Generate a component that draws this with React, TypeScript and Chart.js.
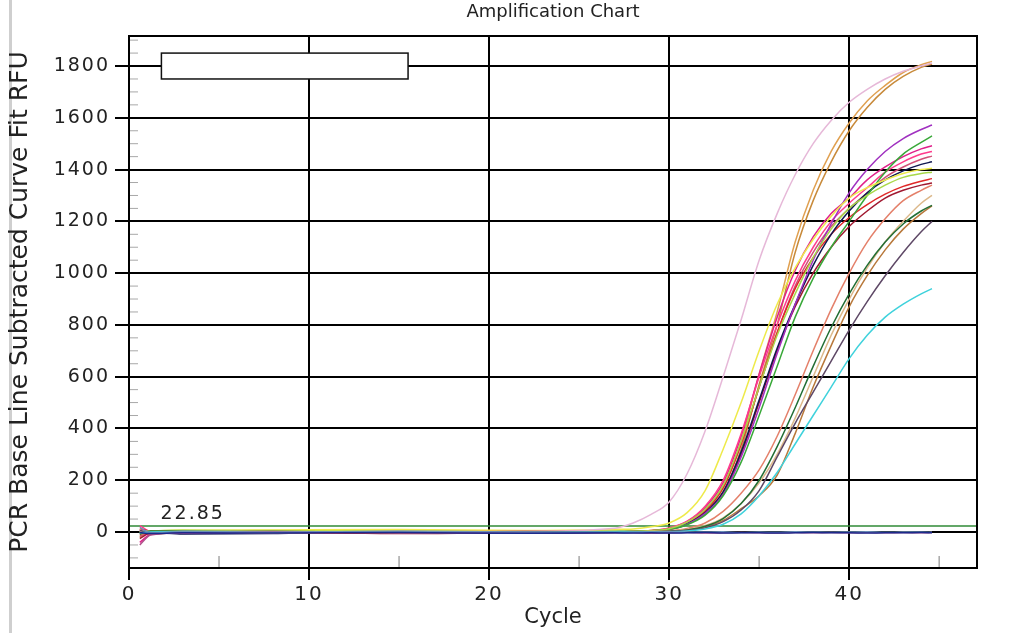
import { useEffect, useRef } from 'react';
import { Chart, registerables } from 'chart.js';

Chart.register(...registerables);

// x positions (cycle) of the stored readings
const cycles = [0.6, 1.2, 3, 8, 15, 22, 27, 28, 29, 30, 31, 32, 33, 34, 35, 36, 37, 38, 39, 40, 41, 42, 43, 44, 44.6];

// RFU readings per well
const negA = [-2, -6, -3, -4, -2, -5, -3, -4, -3, -4, -3, -2, -4, -3, -3, -4, -3, -2, -3, -3, -4, -3, -3, -2, -3];
const negB = [18, -3, 2, -1, 3, 0, -2, -1, 0, 1, -1, 0, 1, -2, 0, -1, 1, 0, -1, 0, 1, -1, 0, 0, -1];
const negC = [-50, -12, -4, 1, -3, -2, -4, -3, -5, -3, -2, -4, -3, -2, -3, -4, -2, -3, -2, -3, -2, -3, -2, -3, -2];
const cyan = [-3, 0, 2, 1, -1, -2, 0, 0, 0, 1, 4, 12, 30, 70, 140, 230, 340, 450, 560, 670, 760, 830, 880, 920, 940];
const darkPurple = [6, -3, 0, 2, -2, 0, 0, 0, 1, 2, 6, 16, 40, 85, 160, 290, 420, 540, 660, 780, 890, 990, 1080, 1160, 1200];
const darkGreen = [-8, 4, 3, 2, 0, 1, 0, 0, 1, 3, 8, 22, 52, 110, 200, 330, 480, 640, 790, 920, 1030, 1120, 1190, 1240, 1262];
const tan = [2, 1, 0, -2, 3, -1, 0, 1, 2, 4, 10, 25, 55, 110, 190, 300, 440, 600, 760, 900, 1020, 1120, 1200, 1270, 1300];
const brownOrange = [-10, 2, 1, 0, -2, 2, 0, 0, 1, 3, 8, 20, 45, 90, 140, 220, 380, 560, 720, 870, 990, 1090, 1170, 1230, 1260];
const salmon = [4, 0, 2, -3, 0, 3, 1, 1, 2, 5, 14, 35, 80, 150, 240, 370, 530, 700, 860, 1000, 1120, 1210, 1280, 1320, 1340];
const lightPink = [8, -5, 2, 1, -2, 3, 15, 35, 68, 116, 225, 390, 600, 820, 1050, 1230, 1380, 1500, 1590, 1660, 1710, 1750, 1780, 1800, 1812];
const yellow = [0, 4, 6, 8, 10, 6, 10, 12, 20, 35, 75, 160, 320, 500, 700, 880, 1020, 1130, 1220, 1290, 1330, 1360, 1385, 1400, 1405];
const lime = [0, 3, 8, 4, 6, 2, 2, 3, 6, 13, 38, 88, 180, 350, 560, 760, 920, 1060, 1170, 1250, 1300, 1340, 1370, 1385, 1390];
const green = [3, -6, 5, 6, 2, 4, 3, 3, 5, 10, 28, 65, 140, 270, 450, 640, 830, 980, 1100, 1200, 1300, 1390, 1460, 1505, 1530];
const purple = [5, 3, -3, -2, 1, -2, 0, 1, 3, 10, 30, 72, 145, 290, 480, 690, 880, 1050, 1190, 1310, 1400, 1470, 1520, 1555, 1572];
const navy = [-5, -2, -8, -6, 4, -5, -2, 1, 4, 11, 32, 75, 155, 310, 510, 710, 880, 1030, 1150, 1240, 1310, 1360, 1395, 1420, 1430];
const darkRed = [-25, -4, -2, 0, -6, -1, 0, 1, 4, 10, 30, 72, 150, 300, 500, 700, 870, 1000, 1100, 1180, 1240, 1290, 1320, 1340, 1348];
const red = [12, 3, -2, -1, -4, 2, 0, 2, 5, 12, 34, 80, 170, 340, 560, 770, 940, 1060, 1150, 1215, 1265, 1305, 1335, 1355, 1365];
const rosePink = [-15, -6, -2, -5, -1, -4, 0, 2, 5, 12, 36, 85, 175, 340, 560, 770, 950, 1080, 1180, 1250, 1310, 1370, 1410, 1440, 1452];
const hotPink = [25, 2, 0, -4, -3, 1, 1, 3, 6, 16, 42, 100, 200, 380, 600, 800, 970, 1100, 1200, 1270, 1330, 1390, 1430, 1460, 1470];
const magenta = [-40, -10, -3, 2, -5, -3, 0, 2, 5, 14, 40, 95, 190, 370, 610, 830, 1010, 1140, 1230, 1290, 1360, 1410, 1450, 1480, 1492];
const orangeB = [10, -8, 0, 3, -1, 2, 1, 2, 5, 12, 35, 82, 155, 320, 570, 800, 1080, 1280, 1430, 1550, 1640, 1710, 1760, 1795, 1808];
const orangeA = [-20, 5, 3, -2, 4, 0, 2, 3, 6, 15, 40, 90, 170, 350, 610, 850, 1120, 1320, 1470, 1580, 1665, 1725, 1775, 1805, 1818];

const wells = [
  { name: 'Neg A', color: '#1c2a8c', values: negA },
  { name: 'Neg B', color: '#6a8fb8', values: negB },
  { name: 'Neg C', color: '#b0508a', values: negC },
  { name: 'Cyan', color: '#3fd2dc', values: cyan },
  { name: 'Dark purple', color: '#5e4866', values: darkPurple },
  { name: 'Dark green', color: '#226e34', values: darkGreen },
  { name: 'Tan', color: '#dcb88a', values: tan },
  { name: 'Brown orange', color: '#b8783a', values: brownOrange },
  { name: 'Salmon', color: '#e4806a', values: salmon },
  { name: 'Light pink', color: '#e6b8d8', values: lightPink },
  { name: 'Yellow', color: '#eeea4a', values: yellow },
  { name: 'Lime', color: '#a8d848', values: lime },
  { name: 'Green', color: '#38a838', values: green },
  { name: 'Purple', color: '#a030c0', values: purple },
  { name: 'Navy', color: '#101850', values: navy },
  { name: 'Dark red', color: '#a01830', values: darkRed },
  { name: 'Red', color: '#e02828', values: red },
  { name: 'Rose pink', color: '#d05078', values: rosePink },
  { name: 'Hot pink', color: '#ff3c8c', values: hotPink },
  { name: 'Magenta', color: '#e0208a', values: magenta },
  { name: 'Orange B', color: '#c88a3a', values: orangeB },
  { name: 'Orange A', color: '#e0a050', values: orangeA },
];

const thresholdValue = 22.85;
const thresholdLabel = '22.85';
const xTicks = [0, 10, 20, 30, 40];
const yTicks = [0, 200, 400, 600, 800, 1000, 1200, 1400, 1600, 1800];
const xMinorTicks = [5, 15, 25, 35, 45];
const xRange = [0, 47.1];
const yRange = [-139, 1916];
const legendBox = { x0: 1.8, x1: 15.5, y0: 1750, y1: 1850 };

const FONT = 'DejaVu Sans';
const TEXT = '#222';

const decorPlugin = {
  id: 'decor',
  beforeUpdate(chart: any) {
    chart.ctx.letterSpacing = '2px';
  },
  beforeDraw(chart: any) {
    const ctx = chart.ctx;
    ctx.letterSpacing = '0px';
    ctx.save();
    ctx.fillStyle = '#fff';
    ctx.fillRect(0, 0, chart.width, chart.height);
    ctx.fillStyle = '#cfcfcf';
    ctx.fillRect(9, 0, 3, chart.height);
    ctx.restore();
  },
  beforeDatasetsDraw(chart: any) {
    const ctx = chart.ctx;
    const { left, bottom } = chart.chartArea;
    const xs = chart.scales.x;
    const ys = chart.scales.y;
    ctx.save();
    ctx.strokeStyle = '#a8a8a8';
    ctx.lineWidth = 1.5;
    xMinorTicks.forEach((v) => {
      const px = xs.getPixelForValue(v);
      ctx.beginPath();
      ctx.moveTo(px, bottom);
      ctx.lineTo(px, bottom - 12);
      ctx.stroke();
    });
    ctx.lineWidth = 1;
    for (let v = -100; v <= 1900; v += 50) {
      if (v % 200 === 0) continue;
      const py = ys.getPixelForValue(v);
      ctx.beginPath();
      ctx.moveTo(left, py);
      ctx.lineTo(left + 9, py);
      ctx.stroke();
    }
    ctx.restore();
  },
  afterDatasetsDraw(chart: any) {
    const ctx = chart.ctx;
    const { left, top, right, bottom } = chart.chartArea;
    const xs = chart.scales.x;
    const ys = chart.scales.y;
    ctx.save();
    // legend placeholder box
    const bx0 = xs.getPixelForValue(legendBox.x0);
    const bx1 = xs.getPixelForValue(legendBox.x1);
    const by0 = ys.getPixelForValue(legendBox.y1);
    const by1 = ys.getPixelForValue(legendBox.y0);
    ctx.fillStyle = '#fff';
    ctx.fillRect(bx0, by0, bx1 - bx0, by1 - by0);
    ctx.strokeStyle = '#111';
    ctx.lineWidth = 1.5;
    ctx.strokeRect(bx0, by0, bx1 - bx0, by1 - by0);
    // frame
    ctx.lineWidth = 2;
    ctx.strokeStyle = '#000';
    ctx.strokeRect(left, top, right - left, bottom - top);
    ctx.restore();
    // spaced text from here on (threshold label, tick labels)
    ctx.letterSpacing = '2px';
    ctx.save();
    ctx.fillStyle = TEXT;
    ctx.font = `19px "${FONT}"`;
    ctx.textAlign = 'left';
    ctx.textBaseline = 'bottom';
    ctx.fillText(thresholdLabel, xs.getPixelForValue(1.75), ys.getPixelForValue(thresholdValue) - 3);
    ctx.restore();
  },
};

export default function App() {
  const canvasRef = useRef<HTMLCanvasElement | null>(null);

  useEffect(() => {
    const canvas = canvasRef.current;
    if (!canvas) return;
    const datasets: any[] = wells.map((w) => ({
      label: w.name,
      data: w.values.map((v, i) => ({ x: cycles[i], y: v })),
      borderColor: w.color,
      backgroundColor: w.color,
      borderWidth: 1.5,
      pointRadius: 0,
      cubicInterpolationMode: 'monotone',
      fill: false,
    }));
    datasets.push({
      label: 'Threshold',
      data: [
        { x: xRange[0], y: thresholdValue },
        { x: xRange[1], y: thresholdValue },
      ],
      borderColor: '#2f8a36',
      borderWidth: 1.5,
      pointRadius: 0,
      fill: false,
    });

    const chart = new Chart(canvas, {
      type: 'line',
      data: { datasets },
      plugins: [decorPlugin],
      options: {
        animation: false,
        responsive: false,
        devicePixelRatio: 1,
        layout: { padding: { left: 0, right: 34, top: 0, bottom: 0 } },
        plugins: {
          legend: { display: false },
          tooltip: { enabled: false },
          title: {
            display: true,
            text: 'Amplification Chart',
            fullSize: false,
            color: TEXT,
            font: { family: FONT, size: 18, weight: 'normal' },
            padding: { top: 2, bottom: 12.4 },
          },
        },
        scales: {
          x: {
            type: 'linear',
            min: xRange[0],
            max: xRange[1],
            afterBuildTicks: (s: any) => {
              s.ticks = xTicks.map((v) => ({ value: v }));
            },
            afterFit: (s: any) => {
              s.height = 65;
            },
            ticks: {
              color: TEXT,
              font: { family: FONT, size: 20 },
              padding: 3,
              maxRotation: 0,
              z: 1,
              callback: (v: any) => String(v),
            },
            grid: { color: '#000', lineWidth: 2, tickLength: 12, drawTicks: true },
            border: { color: '#000', width: 2 },
            title: {
              display: true,
              text: 'Cycle',
              color: TEXT,
              font: { family: FONT, size: 21 },
              padding: { top: 3, bottom: 3 },
            },
          },
          y: {
            type: 'linear',
            min: yRange[0],
            max: yRange[1],
            afterBuildTicks: (s: any) => {
              s.ticks = yTicks.map((v) => ({ value: v }));
            },
            afterFit: (s: any) => {
              s.width = 129;
            },
            ticks: {
              color: TEXT,
              font: { family: FONT, size: 19 },
              padding: 5,
              z: 1,
              callback: (v: any) => String(v),
            },
            grid: { color: '#000', lineWidth: 2, tickLength: 14, drawTicks: true },
            border: { color: '#000', width: 2 },
            title: {
              display: true,
              text: 'PCR Base Line Subtracted Curve Fit RFU',
              color: TEXT,
              font: { family: FONT, size: 25 },
              padding: { top: 5, bottom: 5 },
            },
          },
        },
      } as any,
    });
    return () => chart.destroy();
  }, []);

  return (
    <div style={{ position: 'fixed', left: 0, top: 0, width: 1011, height: 633, background: '#fff' }}>
      <canvas ref={canvasRef} width={1011} height={633} style={{ display: 'block' }} />
    </div>
  );
}
